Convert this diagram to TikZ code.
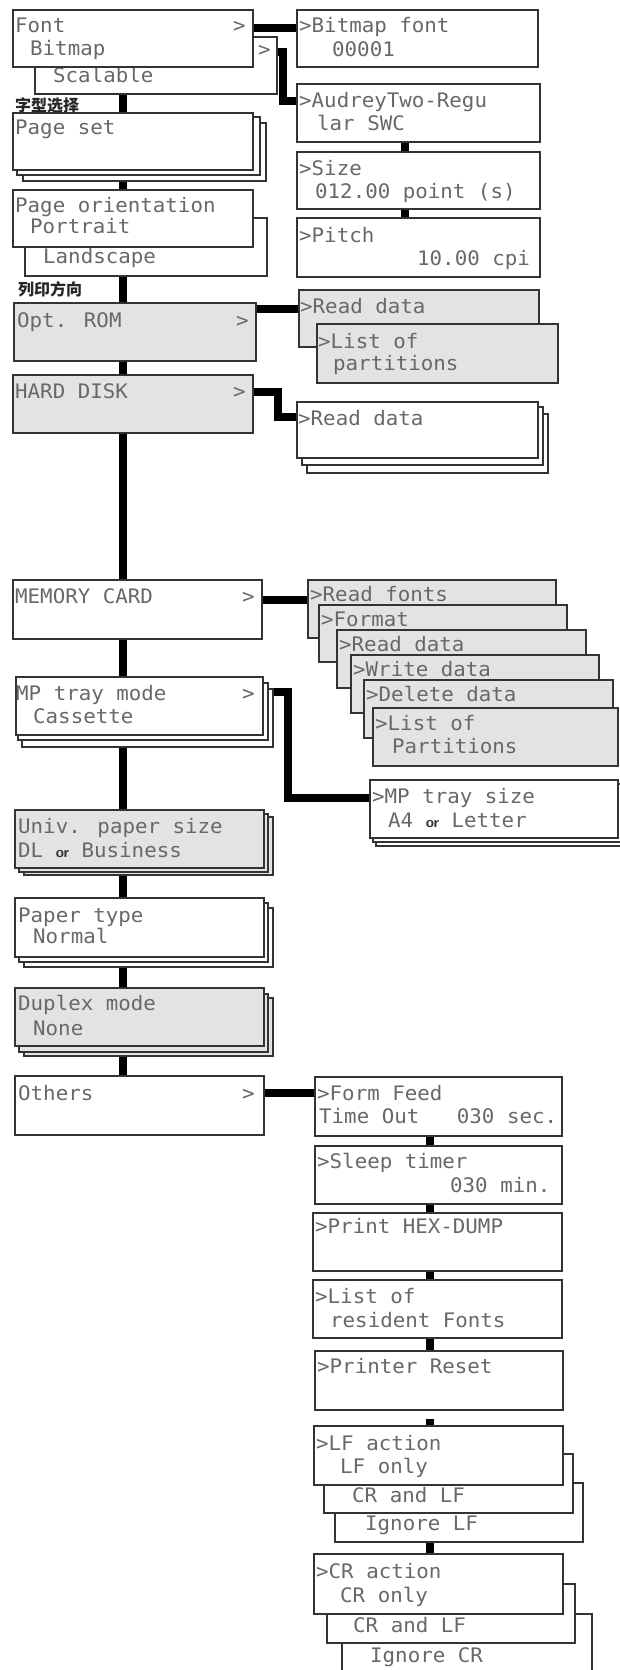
\documentclass[tikz,border=0pt]{standalone}
\usepackage{fontspec}
\newfontfamily\lcdfont[FakeStretch=1.04]{DejaVu Sans Mono}
\newfontfamily\cjkfont{Noto Sans CJK SC}
\usetikzlibrary{calc}
\definecolor{boxline}{HTML}{333333}
\definecolor{txtgray}{HTML}{686868}
\definecolor{panelgray}{HTML}{E3E3E3}
\pgfdeclarelayer{bg}
\pgfsetlayers{bg,main}
\newcounter{tcnt}
\newcommand{\panel}[6]{\node[panelbox, fill=#6, minimum width={(#4-#2)*1pt}, minimum height={(#5-#3)*1pt}] (#1) at ({(#2+#4)/2},{(#3+#5)/2}) {};}
\newcommand{\tx}[3]{\stepcounter{tcnt}\node[lcd] (t\arabic{tcnt}) at (#1,#2) {#3};}
\newcommand{\orw}{{\sffamily\bfseries\fontsize{15}{15}\selectfont\color{black!80}or}}
\tikzset{
  panelbox/.style={draw=boxline, line width=1.5pt, rectangle, inner sep=0pt, outer sep=0pt},
  lcd/.style={font=\lcdfont\fontsize{20}{24}\selectfont, text=txtgray, inner sep=0pt, anchor=base west},
  cjklabel/.style={font=\cjkfont\bfseries\fontsize{16}{17}\selectfont, text=black!85, inner sep=0pt, anchor=base west},
  spine/.style={line width=8.5pt, draw=black},
  conn/.style={line width=8pt, draw=black}
}
\begin{document}
\begin{tikzpicture}[x=1pt,y=-1pt]
\useasboundingbox (0,0) rectangle (620,1670);
\clip (0,0) rectangle (620,1670);
% ---------------- left column
\panel{fontS}{35}{37}{277}{94}{white}
\tx{53}{82}{Scalable}
\tx{258}{57}{>}
\panel{font}{13}{10}{253}{67}{white}
\tx{15}{33}{Font}
\tx{233}{33}{>}
\tx{30}{56}{Bitmap}
\node[cjklabel] (lab1) at (15,111) {字型选择};

\panel{pageset2}{23}{123}{266}{181}{white}
\panel{pageset1}{17}{117}{260}{175}{white}
\panel{pageset}{13}{113}{253}{170}{white}
\tx{15}{134}{Page set}

\panel{pageorL}{25}{218}{267}{276}{white}
\tx{43}{263}{Landscape}
\panel{pageor}{13}{190}{253}{247}{white}
\tx{15}{212}{Page orientation}
\tx{30}{233}{Portrait}
\node[cjklabel] (lab2) at (18,295) {列印方向};

\panel{optrom}{14}{303}{256}{361}{panelgray}
\tx{17}{327}{Opt. ROM}
\tx{236}{327}{>}

\panel{hdd}{13}{375}{253}{433}{panelgray}
\tx{15}{398}{HARD DISK}
\tx{233}{398}{>}

\panel{memcard}{13}{580}{262}{639}{white}
\tx{15}{603}{MEMORY CARD}
\tx{242}{603}{>}

\panel{mptray2}{22}{689}{273}{747}{white}
\panel{mptray1}{18}{683}{268}{740}{white}
\panel{mptray}{16}{677}{263}{735}{white}
\tx{16}{700}{MP tray mode}
\tx{242}{700}{>}
\tx{33}{723}{Cassette}

\panel{univ2}{24}{817}{273}{875}{panelgray}
\panel{univ1}{19}{814}{268}{872}{panelgray}
\panel{univ}{15}{810}{264}{868}{panelgray}
\tx{18}{833}{Univ. paper size}
\tx{18}{857}{DL~\orw~Business}

\panel{ptype2}{24}{908}{273}{967}{white}
\panel{ptype1}{19}{903}{268}{962}{white}
\panel{ptype}{15}{898}{264}{957}{white}
\tx{18}{922}{Paper type}
\tx{33}{943}{Normal}

\panel{duplex2}{24}{998}{273}{1056}{panelgray}
\panel{duplex1}{19}{994}{268}{1052}{panelgray}
\panel{duplex}{15}{988}{264}{1046}{panelgray}
\tx{18}{1010}{Duplex mode}
\tx{33}{1035}{None}

\panel{others}{15}{1076}{264}{1135}{white}
\tx{18}{1100}{Others}
\tx{242}{1100}{>}

% ---------------- right column (Font)
\panel{bmfont}{297}{10}{538}{67}{white}
\tx{299}{33}{>Bitmap font}
\tx{332}{57}{00001}
\panel{audrey}{297}{84}{540}{142}{white}
\tx{299}{107}{>AudreyTwo-Regu}
\tx{317}{130}{lar SWC}
\panel{size}{297}{152}{540}{209}{white}
\tx{299}{175}{>Size}
\tx{315}{198}{012.00 point (s)}
\panel{pitch}{297}{218}{540}{277}{white}
\tx{299}{242}{>Pitch}
\tx{417}{265}{10.00 cpi}

% Opt ROM
\panel{rd1}{299}{290}{539}{347}{panelgray}
\tx{300}{313}{>Read data}
\panel{lop}{317}{324}{558}{383}{panelgray}
\tx{318}{348}{>List of}
\tx{333}{370}{partitions}

% Hard disk
\panel{hdrd2}{307}{414}{548}{473}{white}
\panel{hdrd1}{302}{407}{543}{465}{white}
\panel{hdrd}{297}{402}{538}{458}{white}
\tx{298}{425}{>Read data}

% Memory card
\panel{mc1}{308}{580}{556}{638}{panelgray}
\tx{310}{601}{>Read fonts}
\panel{mc2}{319}{605}{567}{662}{panelgray}
\tx{321}{626}{>Format}
\panel{mc3}{337}{630}{586}{688}{panelgray}
\tx{339}{651}{>Read data}
\panel{mc4}{351}{655}{599}{713}{panelgray}
\tx{353}{676}{>Write data}
\panel{mc5}{364}{680}{613}{738}{panelgray}
\tx{366}{701}{>Delete data}
\panel{mc6}{373}{708}{618}{766}{panelgray}
\tx{375}{730}{>List of}
\tx{392}{753}{Partitions}

% MP tray size
\panel{mptsize2}{376}{788}{624}{846}{white}
\panel{mptsize1}{373}{784}{621}{842}{white}
\panel{mptsize}{370}{780}{618}{838}{white}
\tx{372}{803}{>MP tray size}
\tx{388}{827}{A4~\orw~Letter}

% Others
\panel{ff}{315}{1077}{562}{1136}{white}
\tx{317}{1100}{>Form Feed}
\tx{319}{1123}{Time~Out~~~030~sec.}
\panel{sleep}{315}{1146}{562}{1204}{white}
\tx{317}{1168}{>Sleep timer}
\tx{450}{1192}{030 min.}
\panel{hex}{313}{1213}{562}{1271}{white}
\tx{315}{1233}{>Print HEX-DUMP}
\panel{lrf}{313}{1280}{562}{1338}{white}
\tx{315}{1303}{>List of}
\tx{330}{1327}{resident Fonts}
\panel{reset}{315}{1351}{563}{1410}{white}
\tx{317}{1373}{>Printer Reset}

\panel{lfc}{335}{1483}{583}{1542}{white}
\tx{365}{1530}{Ignore LF}
\panel{lfb}{324}{1454}{573}{1513}{white}
\tx{352}{1502}{CR and LF}
\panel{lfa}{314}{1426}{563}{1485}{white}
\tx{316}{1450}{>LF action}
\tx{340}{1473}{LF only}

\panel{crc}{342}{1614}{592}{1690}{white}
\tx{370}{1662}{Ignore CR}
\panel{crb}{327}{1584}{575}{1643}{white}
\tx{353}{1632}{CR and LF}
\panel{cra}{314}{1554}{563}{1614}{white}
\tx{316}{1578}{>CR action}
\tx{340}{1602}{CR only}

\coordinate (lfstub) at (430,1419);

% ---------------- connectors
\begin{pgfonlayer}{bg}
\fill[white] (0,0) rectangle (620,1670);
\draw[spine] (fontS.south -| 123,0) -- (pageset.north -| 123,0);
\draw[spine] (pageset.south -| 123,0) -- (pageor.north -| 123,0);
\draw[spine] (pageorL.south -| 123,0) -- (optrom.north -| 123,0);
\draw[spine] (optrom.south -| 123,0) -- (hdd.north -| 123,0);
\draw[spine] (hdd.south -| 123,0) -- (memcard.north -| 123,0);
\draw[spine] (memcard.south -| 123,0) -- (mptray.north -| 123,0);
\draw[spine] (mptray.south -| 123,0) -- (univ.north -| 123,0);
\draw[spine] (univ.south -| 123,0) -- (ptype.north -| 123,0);
\draw[spine] (ptype.south -| 123,0) -- (duplex.north -| 123,0);
\draw[spine] (duplex.south -| 123,0) -- (others.north -| 123,0);

\draw[conn] (font.east |- 0,28) -- (bmfont.west |- 0,28);
\draw[conn] (fontS.east |- 0,52) -- ++(6,0) |- (audrey.west |- 0,101);
\draw[conn] (optrom.east |- 0,309) -- (rd1.west |- 0,309);
\draw[conn] (hdd.east |- 0,392) -- ++(25,0) |- (hdrd.west |- 0,417);
\draw[conn] (memcard.east |- 0,600) -- (mc1.west |- 0,600);
\draw[conn] (mptray.east |- 0,692) -- ++(25,0) |- (mptsize.west |- 0,798);
\draw[conn] (others.east |- 0,1093) -- (ff.west |- 0,1093);

\draw[conn] (audrey.south -| 405,0) -- (size.north -| 405,0);
\draw[conn] (size.south -| 405,0) -- (pitch.north -| 405,0);
\draw[conn] (ff.south -| 430,0) -- (sleep.north -| 430,0);
\draw[conn] (sleep.south -| 430,0) -- (hex.north -| 430,0);
\draw[conn] (hex.south -| 430,0) -- (lrf.north -| 430,0);
\draw[conn] (lrf.south -| 430,0) -- (reset.north -| 430,0);
\draw[conn] (lfstub) -- (lfa.north -| 430,0);
\draw[conn] (lfc.south -| 430,0) -- (cra.north -| 430,0);
\end{pgfonlayer}
\end{tikzpicture}
\end{document}
